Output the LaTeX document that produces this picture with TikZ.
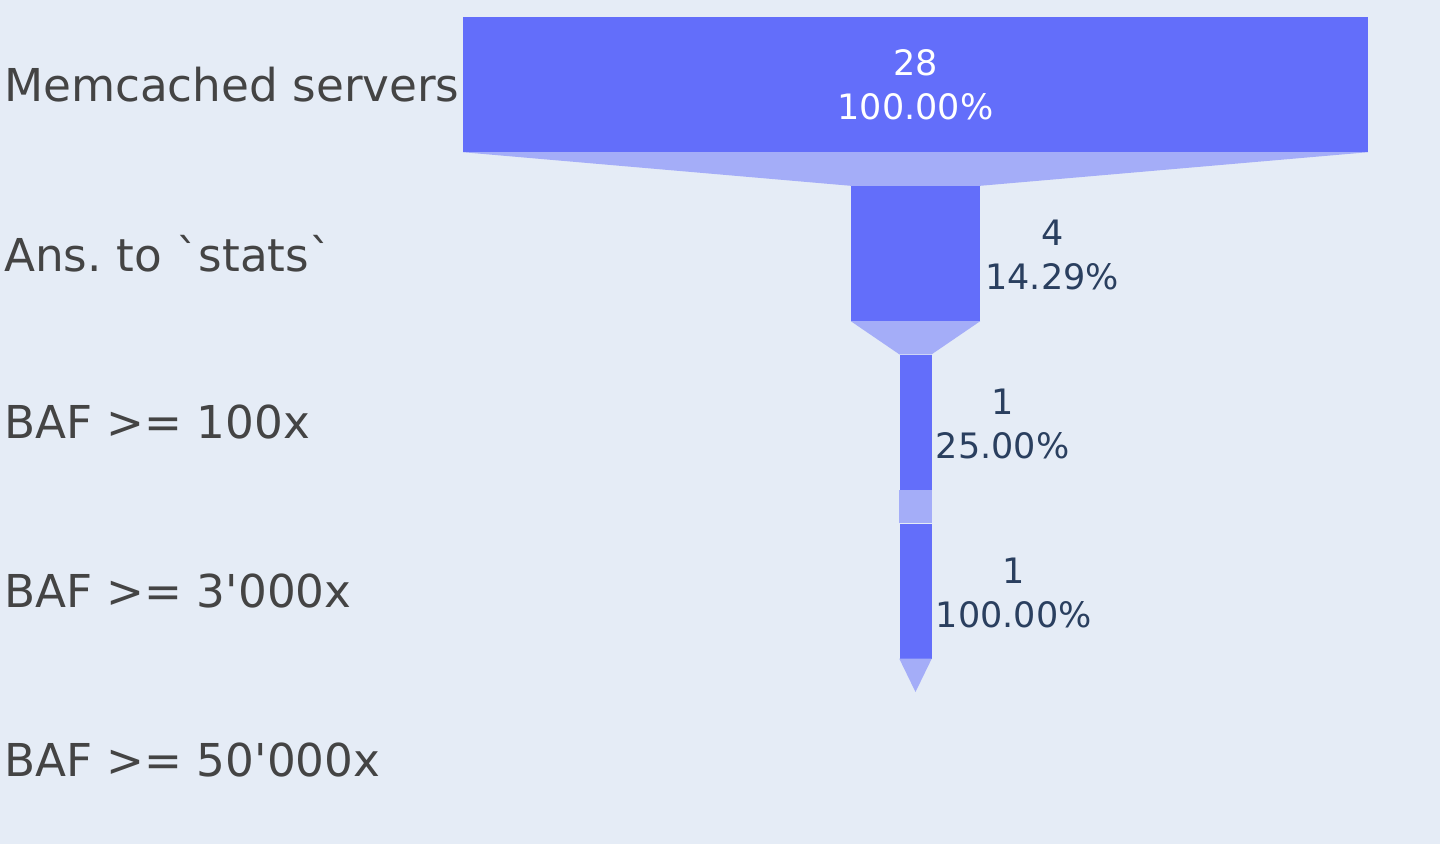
\documentclass[tikz,border=0pt]{standalone}
\usepackage{fontspec}
\setmainfont{DejaVu Sans}[Ligatures=TeXOff]
\usepackage{tikz}
\usetikzlibrary{positioning}
\definecolor{plotbg}{HTML}{E5ECF6}
\definecolor{funnelblue}{HTML}{636EFA}
\definecolor{funnellight}{HTML}{A4ADF8}
\definecolor{labelgray}{HTML}{444444}
\definecolor{numblue}{HTML}{2A3F5F}
\frenchspacing

\begin{document}
\begin{tikzpicture}[
        x=1pt, y=-1pt,
        bar/.style={rectangle, fill=funnelblue, inner sep=0pt, minimum height=135pt},
        conn/.style={fill=funnellight},
        stage/.style={anchor=west, inner sep=0pt, text=labelgray, font=\fontsize{45.3}{54}\selectfont},
        inval/.style={align=center, inner sep=0pt, text=white, font=\fontsize{35}{44}\selectfont},
        outval/.style={align=center, inner sep=0pt, text=numblue, font=\fontsize{35}{44}\selectfont}
    ]
        % Background
        \fill[plotbg] (0,0) rectangle (1440,844);
        \useasboundingbox (0,0) rectangle (1440,844);

        % Stage names
        \node[stage] (lblservers) at (4,84.5) {Memcached servers};
        \node[stage] (lblstats) at (4,253.5) {Ans. to `stats`};
        \node[stage] (lblbafa) at (4,422) {BAF >= 100x};
        \node[stage] (lblbafb) at (4,591) {BAF >= 3'000x};
        \node[stage] (lblbafc) at (4,760) {BAF >= 50'000x};

        % Funnel bars
        \node[bar, inval, minimum width=905pt] (servers) at (915.5,84.5) {28\\100.00\%};
        \node[bar, minimum width=129pt] (stats) at (915.5,253.5) {};
        \node[bar, minimum width=32pt] (bafa) at (915.5,422) {};
        \node[bar, minimum width=32pt] (bafb) at (915.5,591) {};
        \coordinate (bafc) at (915.5,692);

        % Values beside the narrow bars
        \node[outval, right=5pt of stats, yshift=-1.5pt] (valstats) {4\\14.29\%};
        \node[outval, right=4pt of bafa, yshift=-1.5pt] (valbafa) {1\\25.00\%};
        \node[outval, right=4pt of bafb, yshift=-1.5pt] (valbafb) {1\\100.00\%};

        % Connectors between stages
        \fill[conn] (servers.south west) -- (servers.south east) -- (stats.north east) -- (stats.north west) -- cycle;
        \fill[conn] (stats.south west) -- (stats.south east) -- (bafa.north east) -- (bafa.north west) -- cycle;
        \fill[conn] (bafa.south west) -- (bafa.south east) -- (bafb.north east) -- (bafb.north west) -- cycle;
        \fill[conn] (bafb.south west) -- (bafb.south east) -- (bafc) -- cycle;
    \end{tikzpicture}
\end{document}
